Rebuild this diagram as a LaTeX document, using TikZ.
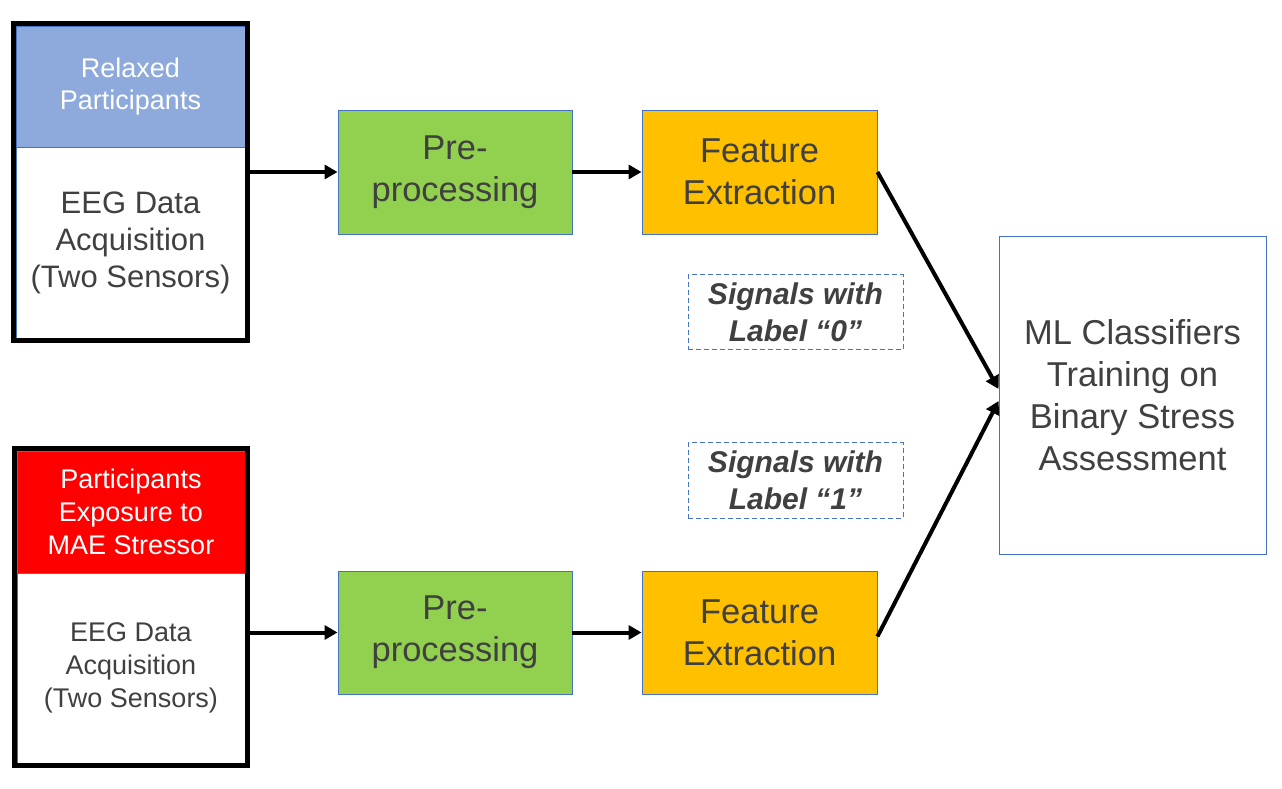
\documentclass[tikz,border=0pt]{standalone}
\usepackage{fontspec}
\setmainfont{Liberation Sans}
\usetikzlibrary{arrows.meta,fit,calc}
\definecolor{relaxblue}{HTML}{8EA9DB}
\definecolor{stressred}{HTML}{FF0000}
\definecolor{procgreen}{HTML}{92D050}
\definecolor{featorange}{HTML}{FFC000}
\definecolor{edgeblue}{HTML}{4472C4}
\definecolor{txtgray}{HTML}{404040}
\tikzset{
  hdr/.style={draw=edgeblue, line width=0.8pt, text=white, align=center, inner sep=0pt, minimum width=229pt},
  body/.style={draw=edgeblue, line width=0.8pt, fill=white, text=txtgray, align=center, inner sep=0pt, minimum width=229pt},
  frame/.style={draw=black, line width=5pt, inner sep=2.5pt},
  procbox/.style={draw=edgeblue, line width=0.9pt, fill=procgreen, text=txtgray, align=center, minimum width=234pt, minimum height=124pt, inner sep=0pt, font=\fontsize{34.5}{42}\selectfont},
  featbox/.style={draw=edgeblue, line width=0.9pt, fill=featorange, text=txtgray, align=center, minimum width=235pt, minimum height=124pt, inner sep=0pt, font=\fontsize{34.5}{42}\selectfont},
  mlbox/.style={draw=edgeblue, line width=0.9pt, fill=white, text=txtgray, align=center, minimum width=267pt, minimum height=318pt, inner sep=0pt, font=\fontsize{34.5}{42}\selectfont},
  sigbox/.style={draw=edgeblue, dashed, dash pattern=on 5pt off 3pt, line width=1pt, text=txtgray, align=center, minimum width=215pt, minimum height=75pt, inner sep=0pt, font=\fontsize{30}{37}\selectfont\bfseries\itshape},
  flow/.style={draw=black, line width=4pt, -{Triangle[length=13pt,width=14pt]}},
}
\begin{document}
\begin{tikzpicture}[x=1pt,y=1pt]
\useasboundingbox (0,0) rectangle (1282,788);
% top group
\node[hdr, fill=relaxblue, minimum height=121pt, font=\fontsize{27}{32}\selectfont] (h1) at (130.5,701.5) {Relaxed\\Participants};
\node[body, minimum height=191pt, font=\fontsize{31}{37}\selectfont] (b1) at (130.5,545.5) {EEG Data\\Acquisition\\(Two Sensors)};
\node[frame, fit=(h1)(b1)] (f1) {};
% bottom group
\node[hdr, fill=stressred, minimum width=228pt, minimum height=122pt, font=\fontsize{27}{33}\selectfont] (h2) at (131,276) {Participants\\Exposure to\\MAE Stressor};
\node[body, minimum width=228pt, minimum height=190pt, font=\fontsize{27}{33}\selectfont] (b2) at (131,120) {EEG Data\\Acquisition\\(Two Sensors)};
\node[frame, fit=(h2)(b2)] (f2) {};
% processing
\node[procbox] (p1) at (455,616) {Pre-\\processing};
\node[featbox] (e1) at (759.5,616) {Feature\\Extraction};
\node[procbox, minimum height=123pt] (p2) at (455,155.5) {Pre-\\processing};
\node[featbox, minimum height=123pt] (e2) at (759.5,155.5) {Feature\\Extraction};
\node[mlbox] (ml) at (1132.5,393) {ML Classifiers\\Training on\\Binary Stress\\Assessment};
\node[sigbox] (s0) at (795.5,475.5) {Signals with\\Label “0”};
\node[sigbox] (s1) at (795.5,307.5) {Signals with\\Label “1”};
% connectors
\draw[flow] (p1.west -| f1.east) -- (p1.west);
\draw[flow] (p1.east) -- (e1.west);
\draw[flow] (p2.west -| f2.east) -- (p2.west);
\draw[flow] (p2.east) -- (e2.west);
\draw[flow] (e1.east) -- ($(ml.west)+(0,6)$);
\draw[flow] ([yshift=-4pt]e2.east) -- ($(ml.west)+(0,-6)$);
\end{tikzpicture}
\end{document}
